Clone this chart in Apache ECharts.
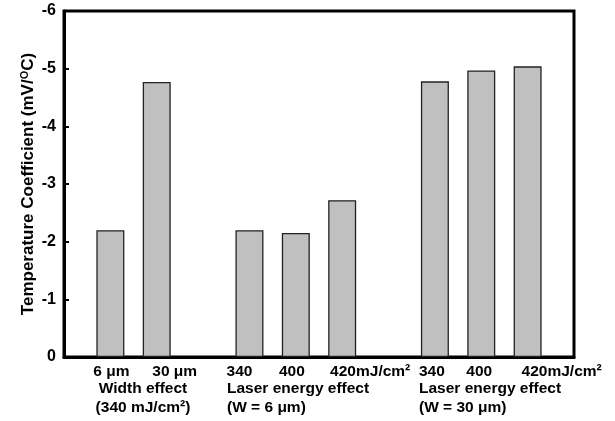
<!DOCTYPE html>
<html><head><meta charset="utf-8">
<script src="https://cdn.jsdelivr.net/npm/echarts@6/dist/echarts.min.js"></script>
<style>html,body{margin:0;padding:0;background:#fff}#c{width:615px;height:421px}</style>
</head><body><div id="c"></div>
<script>
const categories = ['', '6 μm', '30 μm', '', '340', '400', '420mJ/cm²', '', '340', '400', '420mJ/cm²', ''];
const values = [null, -2.2, -4.77, null, -2.2, -2.15, -2.72, null, -4.78, -4.97, -5.04, null];
const yMin = -6, yMax = 0, yStep = 1;
const yTitle = 'Temperature Coefficient (mV/{sup|O}C)';
const groupLine1 = ['Width effect', 'Laser energy effect', 'Laser energy effect'];
const groupLine2 = ['(340 mJ/cm²)', '(W = 6 μm)', '(W = 30 μm)'];

// label horizontal shifts (px) relative to the category point (style only)
const labelShift = [0, 1, 18, 0, -10, -4, 28, 0, -3, -2, 34, 0];
const groupX = [143, 227, 419];
const groupAlign = ['center', 'left', 'left'];

const FONT = 'Liberation Sans, Arial, sans-serif';
const chart = echarts.init(document.getElementById('c'), null, {renderer: 'canvas'});

const catData = categories.map((c, i) => {
  const s = labelShift[i];
  return {
    value: c,
    textStyle: { padding: s >= 0 ? [0, 0, 0, 2 * s] : [0, -2 * s, 0, 0] }
  };
});

const graphics = [];
groupLine1.forEach((t, i) => {
  graphics.push({type: 'text', style: {text: t, x: groupX[i], y: 389, align: groupAlign[i], verticalAlign: 'middle', font: 'bold 15.5px ' + FONT, fill: '#000'}});
  graphics.push({type: 'text', style: {text: groupLine2[i], x: groupX[i], y: 408, align: groupAlign[i], verticalAlign: 'middle', font: 'bold 15.5px ' + FONT, fill: '#000'}});
});

chart.setOption({
  animation: false,
  backgroundColor: '#fff',
  grid: {left: 64, right: 41, top: 11, bottom: 64, show: true, borderColor: '#000', borderWidth: 3},
  xAxis: {
    type: 'category',
    data: catData,
    boundaryGap: false,
    axisLine: {lineStyle: {color: '#000', width: 3}},
    axisTick: {show: false},
    splitLine: {show: false},
    axisLabel: {interval: 0, margin: 7, color: '#000', fontWeight: 'bold', fontSize: 15.5, fontFamily: FONT}
  },
  yAxis: {
    type: 'value',
    min: yMin, max: yMax, interval: yStep,
    inverse: true,
    axisLine: {show: true, lineStyle: {color: '#000', width: 3}},
    axisTick: {show: true, inside: true, length: 5, lineStyle: {color: '#000', width: 2}},
    splitLine: {show: false},
    axisLabel: {margin: 8, color: '#000', fontWeight: 'bold', fontSize: 16, fontFamily: FONT},
    name: yTitle,
    nameLocation: 'middle',
    nameGap: 26,
    nameMoveOverlap: false,
    nameRotate: 90,
    nameTextStyle: {
      color: '#000', fontWeight: 'bold', fontSize: 17, fontFamily: FONT,
      rich: {sup: {fontSize: 11, fontWeight: 'bold', fontFamily: FONT, color: '#000', verticalAlign: 'top', padding: [0, 0, 8, 0]}}
    }
  },
  series: [{
    type: 'bar',
    data: values,
    barWidth: 28,
    itemStyle: {color: '#c0c0c0', borderColor: '#222', borderWidth: 1.3}
  }],
  graphic: graphics
});
</script>
</body></html>
